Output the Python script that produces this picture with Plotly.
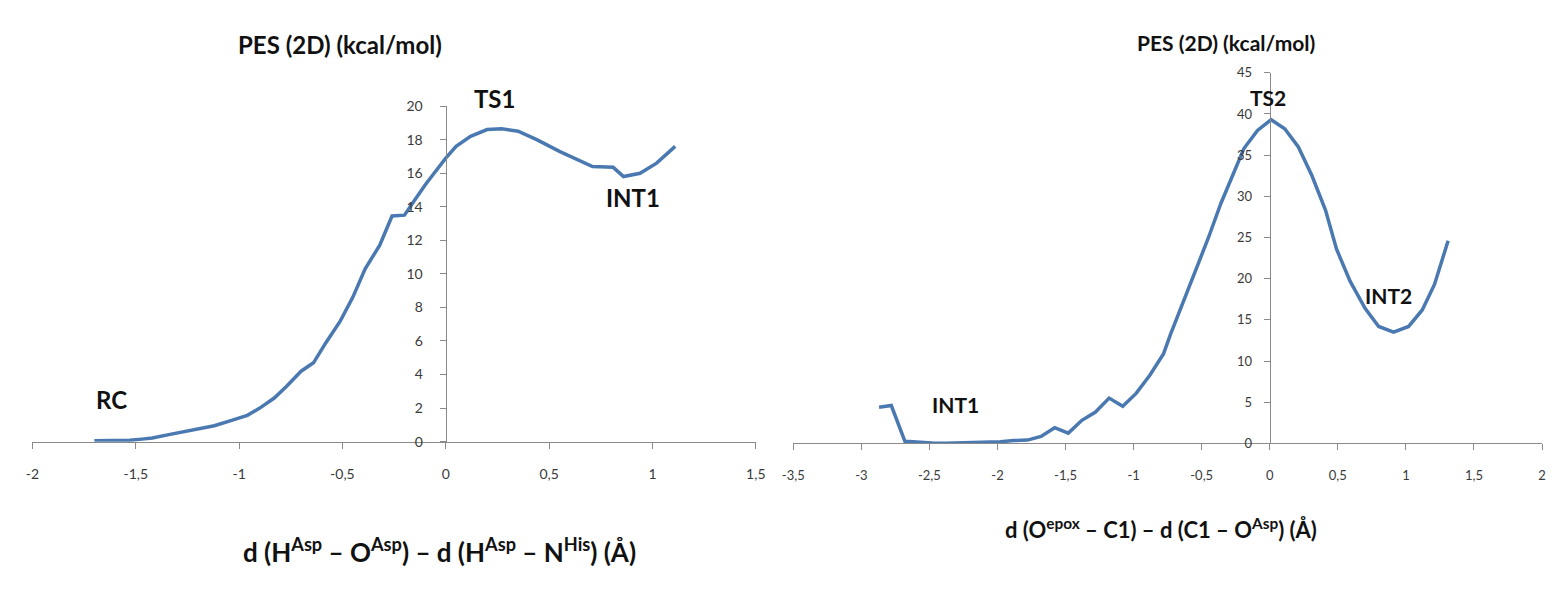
import plotly.graph_objects as go

# ---- Data: left panel (TS1 proton transfer) ----
x_left = [-1.70, -1.60, -1.53, -1.47, -1.42, -1.34, -1.26, -1.18, -1.12, -1.04,
          -0.96, -0.90, -0.83, -0.77, -0.70, -0.64, -0.58, -0.51, -0.45, -0.39,
          -0.32, -0.26, -0.20, -0.15, -0.10, -0.05, 0.00, 0.05, 0.12, 0.20,
          0.27, 0.35, 0.44, 0.55, 0.63, 0.71, 0.81, 0.86, 0.94, 1.02, 1.11]
y_left = [0.05, 0.06, 0.08, 0.15, 0.22, 0.42, 0.62, 0.80, 0.95, 1.25,
          1.57, 2.0, 2.6, 3.3, 4.2, 4.7, 5.9, 7.2, 8.6, 10.3,
          11.7, 13.45, 13.5, 14.4, 15.3, 16.1, 16.9, 17.6, 18.2, 18.6,
          18.65, 18.5, 18.0, 17.3, 16.85, 16.4, 16.35, 15.8, 16.0, 16.6, 17.6]

# ---- Data: right panel (TS2 epoxide opening) ----
x_right = [-2.87, -2.78, -2.68, -2.58, -2.48, -2.38, -2.28, -2.18, -2.08, -1.98,
           -1.88, -1.78, -1.68, -1.58, -1.48, -1.38, -1.28, -1.18, -1.08, -0.98,
           -0.88, -0.78, -0.73, -0.65, -0.55, -0.45, -0.36, -0.28, -0.19, -0.09,
           0.01, 0.11, 0.21, 0.31, 0.41, 0.49, 0.59, 0.70, 0.80, 0.91,
           1.02, 1.12, 1.21, 1.31]
y_right = [4.4, 4.6, 0.25, 0.1, 0.05, 0.03, 0.05, 0.08, 0.12, 0.2,
           0.35, 0.4, 0.85, 1.9, 1.25, 2.8, 3.8, 5.5, 4.5, 6.1,
           8.3, 10.9, 13.2, 16.5, 20.7, 25.0, 29.1, 32.3, 35.8, 38.0,
           39.3, 38.2, 36.0, 32.5, 28.3, 23.6, 19.7, 16.4, 14.2, 13.5,
           14.2, 16.2, 19.3, 24.6]

# ---- Tick labels ----
xl_vals = [-2, -1.5, -1, -0.5, 0, 0.5, 1, 1.5]
xl_text = ["-2", "-1,5", "-1", "-0,5", "0", "0,5", "1", "1,5"]
yl_vals = [0, 2, 4, 6, 8, 10, 12, 14, 16, 18, 20]
yl_text = ["0", "2", "4", "6", "8", "10", "12", "14", "16", "18", "20"]
xr_vals = [-3.5, -3, -2.5, -2, -1.5, -1, -0.5, 0, 0.5, 1, 1.5, 2]
xr_text = ["-3,5", "-3", "-2,5", "-2", "-1,5", "-1", "-0,5", "0", "0,5", "1", "1,5", "2"]
yr_vals = [0, 5, 10, 15, 20, 25, 30, 35, 40, 45]
yr_text = ["0", "5", "10", "15", "20", "25", "30", "35", "40", "45"]

# ---- Labels ----
title_text = "PES (2D) (kcal/mol)"
xlabel_left = "d (H<sup>Asp</sup> – O<sup>Asp</sup>) – d (H<sup>Asp</sup> – N<sup>His</sup>) (Å)"
xlabel_right = "d (O<sup>epox</sup> – C1) – d (C1 – O<sup>Asp</sup>) (Å)"
left_labels = ["RC", "TS1", "INT1"]
right_labels = ["INT1", "TS2", "INT2"]

W, H = 1555, 589
LINE = "#4a78b0"
AX = "#8a8a8a"
FONT = "Lato"


def px(v):
    return v / W


def py(v):
    return 1 - v / H


# label placement (pixel centres in the 1555x589 page)
left_label_pos = [(102, 402), (490, 92), (631, 194)]
right_label_pos = [(957, 407), (1274, 91), (1396, 295)]

fig = go.Figure()
fig.add_trace(go.Scatter(x=x_left, y=y_left, mode="lines",
                         line=dict(color=LINE, width=3.5), xaxis="x", yaxis="y",
                         showlegend=False, hoverinfo="skip"))
fig.add_trace(go.Scatter(x=x_right, y=y_right, mode="lines",
                         line=dict(color=LINE, width=3.5), xaxis="x2", yaxis="y2",
                         showlegend=False, hoverinfo="skip"))

common_axis = dict(showgrid=False, zeroline=False, showline=True, linecolor=AX,
                   linewidth=1, ticks="outside", ticklen=6, tickcolor=AX)
tickfont_l = dict(family=FONT, size=14, color="#3a3a3a")
tickfont_r = dict(family=FONT, size=13, color="#3a3a3a")

fig.update_layout(
    width=W, height=H,
    margin=dict(l=0, r=0, t=0, b=0),
    paper_bgcolor="white", plot_bgcolor="white",
    xaxis=dict(domain=[px(21.7), px(755)], range=[-2, 1.5], anchor="y",
               tickvals=xl_vals, ticktext=xl_text, ticklabelstandoff=14,
               tickfont=tickfont_l, **common_axis),
    yaxis=dict(domain=[py(445.5), py(100)], range=[0, 20], anchor="free",
               position=px(440.5), tickvals=yl_vals, ticktext=yl_text,
               ticklabelstandoff=14, tickfont=tickfont_l, **common_axis),
    xaxis2=dict(domain=[px(793), px(1552)], range=[-3.5, 2], anchor="y2",
                tickvals=xr_vals, ticktext=xr_text, ticklabelstandoff=14,
                tickfont=tickfont_r, **common_axis),
    yaxis2=dict(domain=[py(447.3), py(65.7)], range=[0, 45], anchor="free",
                position=px(1276), tickvals=yr_vals, ticktext=yr_text,
                ticklabelstandoff=9, tickfont=tickfont_r, **common_axis),
)


def bold(size):
    return dict(family=FONT, size=size, color="#111", weight="bold")


ann = []
ann.append(dict(text=title_text, x=px(333), y=py(37), font=bold(24)))
ann.append(dict(text=title_text, x=px(1232), y=py(35), font=bold(21)))
ann.append(dict(text=xlabel_left, x=px(434), y=py(558), font=bold(26)))
ann.append(dict(text=xlabel_right, x=px(1166), y=py(535), font=bold(22)))
for t, (xp, yp) in zip(left_labels, left_label_pos):
    ann.append(dict(text=t, x=px(xp), y=py(yp), font=bold(24)))
for t, (xp, yp) in zip(right_labels, right_label_pos):
    ann.append(dict(text=t, x=px(xp), y=py(yp), font=bold(21)))
for a in ann:
    a.update(xref="paper", yref="paper", showarrow=False,
             xanchor="center", yanchor="middle")
fig.update_layout(annotations=ann)

fig.write_html("out.html")
